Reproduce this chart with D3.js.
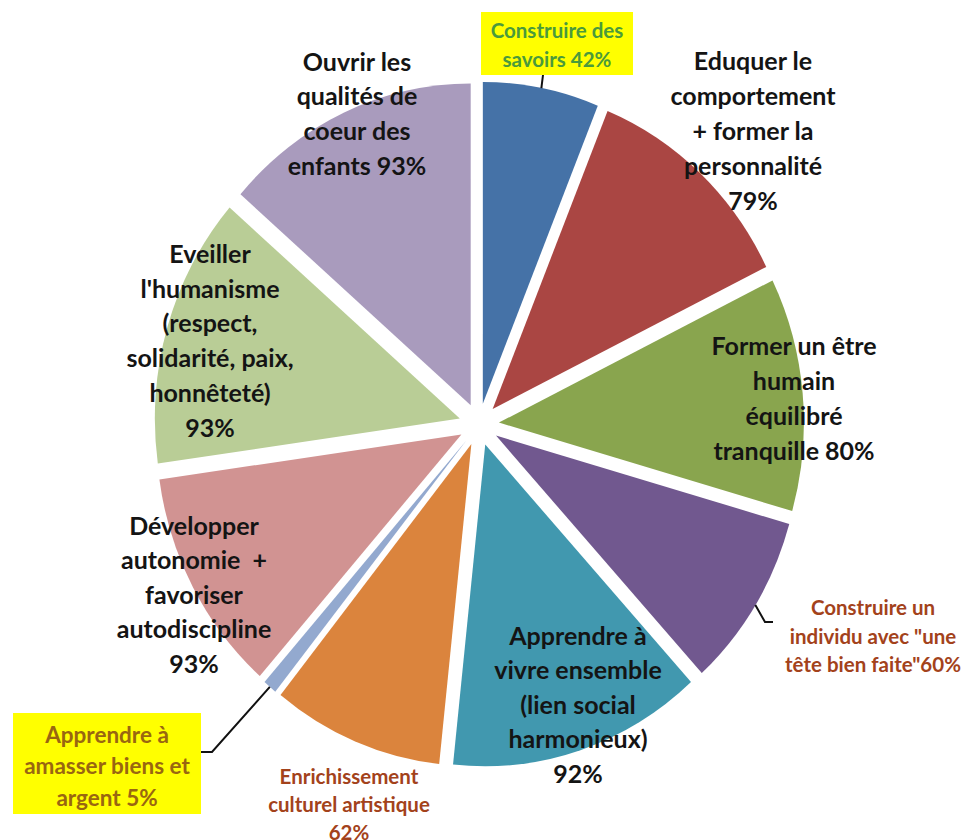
<!DOCTYPE html>
<html>
<head>
<meta charset="utf-8">
<script src="https://cdn.jsdelivr.net/npm/d3@7"></script>
<style>
  body { margin: 0; background: #fff; }
  svg { display: block; }
  text { font-family: Lato, "Open Sans", sans-serif; font-weight: bold; white-space: pre; }
</style>
</head>
<body>
<div id="chart"></div>
<script>
// slice order clockwise from 12 o'clock
var categories = [
  "Construire des savoirs",
  "Eduquer le comportement + former la personnalité",
  "Former un être humain équilibré tranquille",
  "Construire un individu avec \"une tête bien faite\"",
  "Apprendre à vivre ensemble (lien social harmonieux)",
  "Enrichissement culturel artistique",
  "Apprendre à amasser biens et argent",
  "Développer autonomie + favoriser autodiscipline",
  "Eveiller l'humanisme (respect, solidarité, paix, honnêteté)",
  "Ouvrir les qualités de coeur des enfants"
];
// slice sizes as drawn (the pink slice is drawn smaller than its 93% label)
var sliceValues = [42, 79, 80, 60, 92, 62, 5, 77, 93, 93];
// label lines as printed
var labelLines = [
  ["Construire des", "savoirs 42%"],
  ["Eduquer le", "comportement", "+ former la", "personnalité", "79%"],
  ["Former un être", "humain", "équilibré", "tranquille 80%"],
  ["Construire un", "individu avec \"une", "tête bien faite\"60%"],
  ["Apprendre à", "vivre ensemble", "(lien social", "harmonieux)", "92%"],
  ["Enrichissement", "culturel artistique", "62%"],
  ["Apprendre à", "amasser biens et", "argent 5%"],
  ["Développer", "autonomie  +", "favoriser", "autodiscipline", "93%"],
  ["Eveiller", "l'humanisme", "(respect,", "solidarité, paix,", "honnêteté)", "93%"],
  ["Ouvrir les", "qualités de", "coeur des", "enfants 93%"]
];
var sliceColors = ["#4572A7", "#AA4643", "#89A54E", "#71588F", "#4198AF",
                   "#DB843D", "#93A9CF", "#D19392", "#B9CD96", "#A99BBD"];

var width = 965, height = 840;
var cx = 479, cy = 424.5, R = 305, explode = 20, sy = 1.055;

// label layout: centre x, first line centre y, line step, size, colour, box, leader bends
var labelStyle = [
  {x: 557, y: 31, step: 29, size: 20.5, color: "#4a9a3c", box: [481, 12, 152, 63], lead: [[543, 75]]},
  {x: 753, y: 61, step: 35, size: 25, color: "#141414"},
  {x: 794, y: 346, step: 35, size: 25, color: "#141414"},
  {x: 873, y: 608, step: 28.5, size: 20.5, color: "#a3421b", lead: [[765, 622], [773, 622]]},
  {x: 578, y: 636, step: 34.5, size: 25, color: "#141414"},
  {x: 349, y: 777, step: 28, size: 20.5, color: "#a3421b"},
  {x: 107, y: 735, step: 31.5, size: 22.5, color: "#996611", box: [13, 713, 188, 101], lead: [[212, 752], [201, 752]]},
  {x: 194, y: 526, step: 34.5, size: 25, color: "#141414"},
  {x: 210, y: 254, step: 34.8, size: 25, color: "#141414"},
  {x: 357, y: 62, step: 34.7, size: 25, color: "#141414"}
];

var svg = d3.select("#chart").append("svg")
  .attr("width", width).attr("height", height);

var pie = d3.pie().sort(null).value(function(d) { return d; });
var arcs = pie(sliceValues);
var arc = d3.arc().innerRadius(0).outerRadius(R);

var pieG = svg.append("g")
  .attr("transform", "translate(" + cx + "," + cy + ") scale(1," + sy + ")");

pieG.selectAll("path")
  .data(arcs)
  .enter()
  .append("path")
  .attr("d", arc)
  .attr("fill", function(d, i) { return sliceColors[i]; })
  .attr("transform", function(d) {
    var a = (d.startAngle + d.endAngle) / 2;
    return "translate(" + (Math.sin(a) * explode) + "," + (-Math.cos(a) * explode) + ")";
  });

// outer point of a slice at its mid angle, in page coords
function outerPoint(d) {
  var a = (d.startAngle + d.endAngle) / 2;
  var r = R + explode;
  return [cx + Math.sin(a) * r, cy - Math.cos(a) * r * sy];
}

// yellow boxes
labelStyle.forEach(function(s) {
  if (s.box) {
    svg.append("rect")
      .attr("x", s.box[0]).attr("y", s.box[1])
      .attr("width", s.box[2]).attr("height", s.box[3])
      .attr("fill", "#ffff00");
  }
});

// leader lines
labelStyle.forEach(function(s, i) {
  if (!s.lead) return;
  var pts = [outerPoint(arcs[i])].concat(s.lead);
  svg.append("path")
    .attr("d", d3.line()(pts))
    .attr("fill", "none")
    .attr("stroke", "#111")
    .attr("stroke-width", 2);
});

// labels
labelLines.forEach(function(lines, i) {
  var s = labelStyle[i];
  var t = svg.append("text")
    .attr("text-anchor", "middle")
    .attr("fill", s.color)
    .style("font-size", s.size + "px");
  lines.forEach(function(line, j) {
    t.append("tspan")
      .attr("x", s.x)
      .attr("y", s.y + j * s.step)
      .attr("dy", "0.35em")
      .text(line);
  });
});
</script>
</body>
</html>
